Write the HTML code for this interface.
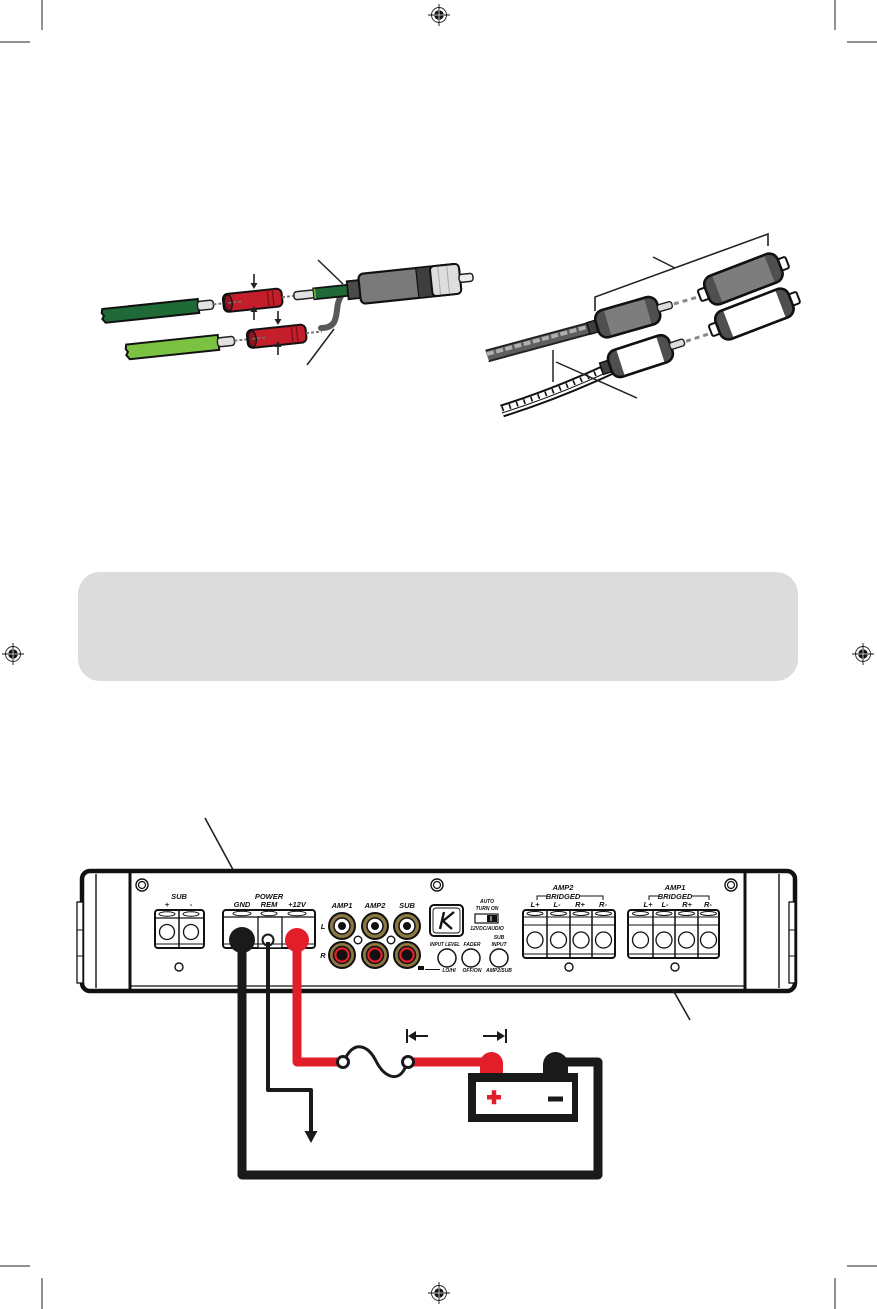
<!DOCTYPE html>
<html>
<head>
<meta charset="utf-8">
<style>
html,body{margin:0;padding:0;background:#fff;}
svg{display:block;}
text{font-family:"Liberation Sans",sans-serif;font-weight:bold;font-style:italic;}
</style>
</head>
<body>
<svg width="877" height="1309" viewBox="0 0 877 1309" xmlns="http://www.w3.org/2000/svg">
<rect width="877" height="1309" fill="#fff"/>

<!-- crop marks -->
<g stroke="#222" stroke-width="1">
<line x1="42" y1="0" x2="42" y2="30"/>
<line x1="0" y1="42" x2="30" y2="42"/>
<line x1="835" y1="0" x2="835" y2="30"/>
<line x1="847" y1="42" x2="877" y2="42"/>
<line x1="0" y1="1266" x2="30" y2="1266"/>
<line x1="42" y1="1278" x2="42" y2="1309"/>
<line x1="847" y1="1266" x2="877" y2="1266"/>
<line x1="835" y1="1278" x2="835" y2="1309"/>
</g>

<!-- registration marks -->
<defs>
<g id="reg">
<circle r="7.5" fill="none" stroke="#222" stroke-width="0.9"/>
<circle r="4.8" fill="#111"/>
<line x1="-11" y1="0" x2="11" y2="0" stroke="#111" stroke-width="0.9"/>
<line x1="0" y1="-11" x2="0" y2="11" stroke="#111" stroke-width="0.9"/>
<line x1="-4.8" y1="0" x2="4.8" y2="0" stroke="#fff" stroke-width="0.7"/>
<line x1="0" y1="-4.8" x2="0" y2="4.8" stroke="#fff" stroke-width="0.7"/>
</g>
</defs>
<use href="#reg" x="439" y="15"/>
<use href="#reg" x="439" y="1293"/>
<use href="#reg" x="13" y="654"/>
<use href="#reg" x="863" y="654"/>

<!-- ============ LEFT CONNECTOR DIAGRAM ============ -->
<line x1="318" y1="260" x2="343" y2="284" stroke="#222" stroke-width="1.5"/>
<line x1="307" y1="365" x2="334" y2="329" stroke="#222" stroke-width="1.5"/>

<path d="M341,296 C336,304 338,312 335,320 C333,326 328,328 321,328" fill="none" stroke="#595959" stroke-width="6" stroke-linecap="round"/>

<g transform="translate(103,316) rotate(-6)">
<polygon points="0,-7 96,-7 96,7 2,7 -1,3 1,0 -1,-3" fill="#1f6a36" stroke="#111" stroke-width="2"/>
<rect x="95" y="-4.5" width="16" height="9" rx="3" fill="#e2e2e2" stroke="#222" stroke-width="1.5"/>
<line x1="111" y1="0" x2="122" y2="0" stroke="#777" stroke-width="2" stroke-dasharray="3 2"/>
<rect x="121" y="-9" width="59" height="18" rx="5" fill="#c41e2b" stroke="#111" stroke-width="2"/>
<ellipse cx="126" cy="0" rx="4" ry="8" fill="#8e1520" stroke="#111" stroke-width="1.2"/>
<line x1="126" y1="0" x2="140" y2="0" stroke="#777" stroke-width="1.5" stroke-dasharray="3 2"/>
<line x1="166" y1="-9" x2="166" y2="9" stroke="#7a1018" stroke-width="1.3"/>
<line x1="171" y1="-9" x2="171" y2="9" stroke="#7a1018" stroke-width="1.3"/>
<line x1="180" y1="0" x2="193" y2="0" stroke="#777" stroke-width="2" stroke-dasharray="3 2"/>
<rect x="192" y="-4" width="22" height="8" rx="3" fill="#e2e2e2" stroke="#222" stroke-width="1.5"/>
<rect x="212" y="-5.5" width="35" height="11" fill="#1f6a36" stroke="#111" stroke-width="1.8"/>
<line x1="213" y1="-5" x2="213" y2="5" stroke="#7cc242" stroke-width="1.5"/>
<rect x="246" y="-9" width="13" height="18" fill="#4a4a4a" stroke="#111" stroke-width="1.8"/>
<rect x="258" y="-15" width="101" height="30" rx="5" fill="#7a7a7a" stroke="#111" stroke-width="2.2"/>
<rect x="316" y="-15" width="14" height="30" fill="#3e3e3e" stroke="#111" stroke-width="1.2"/>
<rect x="330" y="-15" width="29" height="30" rx="4" fill="#dedede" stroke="#111" stroke-width="2"/>
<line x1="338" y1="-14" x2="338" y2="14" stroke="#aaa" stroke-width="1"/>
<line x1="347" y1="-14" x2="347" y2="14" stroke="#aaa" stroke-width="1"/>
<rect x="358" y="-4" width="14" height="8" rx="3" fill="#eee" stroke="#222" stroke-width="1.5"/>
</g>

<g transform="translate(127,352) rotate(-6)">
<polygon points="0,-7.5 92,-7.5 92,7.5 2,7.5 -1,3 1,0 -1,-3" fill="#7cc242" stroke="#111" stroke-width="2"/>
<rect x="91" y="-4.5" width="17" height="9" rx="3" fill="#e2e2e2" stroke="#222" stroke-width="1.5"/>
<line x1="108" y1="0" x2="122" y2="0" stroke="#777" stroke-width="2" stroke-dasharray="3 2"/>
<rect x="121" y="-9" width="59" height="18" rx="5" fill="#c41e2b" stroke="#111" stroke-width="2"/>
<ellipse cx="126" cy="0" rx="4" ry="8" fill="#8e1520" stroke="#111" stroke-width="1.2"/>
<line x1="126" y1="0" x2="140" y2="0" stroke="#777" stroke-width="1.5" stroke-dasharray="3 2"/>
<line x1="166" y1="-9" x2="166" y2="9" stroke="#7a1018" stroke-width="1.3"/>
<line x1="171" y1="-9" x2="171" y2="9" stroke="#7a1018" stroke-width="1.3"/>
<line x1="180" y1="0" x2="196" y2="0" stroke="#777" stroke-width="2" stroke-dasharray="3 2"/>
</g>

<g stroke="#222" stroke-width="1.6" fill="#222">
<line x1="254" y1="274" x2="254" y2="285"/>
<polygon points="250.5,283 257.5,283 254,289" stroke="none"/>
<line x1="254" y1="320" x2="254" y2="310"/>
<polygon points="250.5,312 257.5,312 254,306" stroke="none"/>
<line x1="278" y1="311" x2="278" y2="321"/>
<polygon points="274.5,319 281.5,319 278,325" stroke="none"/>
<line x1="278" y1="355" x2="278" y2="345"/>
<polygon points="274.5,347 281.5,347 278,341" stroke="none"/>
</g>

<!-- ============ RIGHT RCA DIAGRAM ============ -->
<polyline points="595,311 595,297 768,234 768,246" fill="none" stroke="#222" stroke-width="1.6"/>
<line x1="653" y1="257" x2="675" y2="268" stroke="#222" stroke-width="1.5"/>

<path d="M487,356 L598,326" stroke="#222" stroke-width="13" fill="none"/>
<path d="M487,356 L598,326" stroke="#5e5e5e" stroke-width="9" fill="none"/>
<path d="M487,354 L598,324" stroke="#b0b0b0" stroke-width="4" fill="none" stroke-dasharray="7 2.5"/>
<polygon points="485,350 489,361 486,362 483,351" fill="#fff"/>

<path d="M502,411 Q556,394 612,368" stroke="#111" stroke-width="13" fill="none"/>
<path d="M502,411 Q556,394 612,368" stroke="#fff" stroke-width="9" fill="none"/>
<path d="M502,409 Q556,392 612,366" stroke="#111" stroke-width="5" fill="none" stroke-dasharray="1.6 6"/>
<path d="M502,413 Q556,396 612,370" stroke="#111" stroke-width="1" fill="none"/>

<line x1="553" y1="350" x2="553" y2="382" stroke="#222" stroke-width="1.5"/>
<line x1="556" y1="362" x2="637" y2="398" stroke="#222" stroke-width="1.5"/>

<g transform="translate(707,293) rotate(-21)">
<rect x="-8" y="-6" width="10" height="12" rx="2" fill="#fff" stroke="#111" stroke-width="2"/>
<rect x="76" y="-6" width="10" height="12" rx="2" fill="#fff" stroke="#111" stroke-width="2"/>
<rect x="0" y="-15" width="78" height="30" rx="9" fill="#7d7d7d" stroke="#111" stroke-width="2.5"/>
<path d="M9,-15 Q0,-15 0,-6 L0,6 Q0,15 9,15 L11,15 L11,-15 Z" fill="#4f4f4f"/>
<path d="M69,-15 Q78,-15 78,-6 L78,6 Q78,15 69,15 L67,15 L67,-15 Z" fill="#4f4f4f"/>
<rect x="0" y="-15" width="78" height="30" rx="9" fill="none" stroke="#111" stroke-width="2.5"/>
</g>
<g transform="translate(718,328) rotate(-21)">
<rect x="-8" y="-6" width="10" height="12" rx="2" fill="#fff" stroke="#111" stroke-width="2"/>
<rect x="76" y="-6" width="10" height="12" rx="2" fill="#fff" stroke="#111" stroke-width="2"/>
<rect x="0" y="-15" width="78" height="30" rx="9" fill="#fff" stroke="#111" stroke-width="2.5"/>
<path d="M9,-15 Q0,-15 0,-6 L0,6 Q0,15 9,15 L11,15 L11,-15 Z" fill="#4f4f4f"/>
<path d="M69,-15 Q78,-15 78,-6 L78,6 Q78,15 69,15 L67,15 L67,-15 Z" fill="#4f4f4f"/>
<rect x="0" y="-15" width="78" height="30" rx="9" fill="none" stroke="#111" stroke-width="2.5"/>
</g>
<g transform="translate(597,326) rotate(-16)">
<rect x="-9" y="-6" width="10" height="12" fill="#3e3e3e" stroke="#111" stroke-width="1.5"/>
<rect x="0" y="-14" width="64" height="28" rx="9" fill="#7d7d7d" stroke="#111" stroke-width="2.5"/>
<path d="M9,-14 Q0,-14 0,-5 L0,5 Q0,14 9,14 L11,14 L11,-14 Z" fill="#4f4f4f"/>
<path d="M55,-14 Q64,-14 64,-5 L64,5 Q64,14 55,14 L53,14 L53,-14 Z" fill="#4f4f4f"/>
<rect x="0" y="-14" width="64" height="28" rx="9" fill="none" stroke="#111" stroke-width="2.5"/>
<rect x="63" y="-3.5" width="15" height="7" rx="2.5" fill="#ddd" stroke="#222" stroke-width="1.4"/>
<line x1="80" y1="0" x2="106" y2="0" stroke="#8a8a8a" stroke-width="3" stroke-dasharray="5 4"/>
</g>
<g transform="translate(610,366) rotate(-18)">
<rect x="-9" y="-6" width="10" height="12" fill="#3e3e3e" stroke="#111" stroke-width="1.5"/>
<rect x="0" y="-14" width="64" height="28" rx="9" fill="#fff" stroke="#111" stroke-width="2.5"/>
<path d="M9,-14 Q0,-14 0,-5 L0,5 Q0,14 9,14 L11,14 L11,-14 Z" fill="#4f4f4f"/>
<path d="M55,-14 Q64,-14 64,-5 L64,5 Q64,14 55,14 L53,14 L53,-14 Z" fill="#4f4f4f"/>
<rect x="0" y="-14" width="64" height="28" rx="9" fill="none" stroke="#111" stroke-width="2.5"/>
<rect x="63" y="-3.5" width="15" height="7" rx="2.5" fill="#ddd" stroke="#222" stroke-width="1.4"/>
<line x1="80" y1="0" x2="106" y2="0" stroke="#8a8a8a" stroke-width="3" stroke-dasharray="5 4"/>
</g>

<!-- ============ GRAY BOX ============ -->
<rect x="78" y="572" width="720" height="109" rx="22" fill="#dcdcdc"/>

<!-- ============ AMPLIFIER ============ -->
<line x1="205" y1="818" x2="256" y2="912" stroke="#222" stroke-width="1.6"/>

<rect x="82" y="871" width="713" height="120" rx="8" fill="#fff" stroke="#111" stroke-width="4.5"/>
<line x1="130" y1="871" x2="130" y2="991" stroke="#111" stroke-width="3"/>
<line x1="745" y1="871" x2="745" y2="991" stroke="#111" stroke-width="3"/>
<line x1="96" y1="874" x2="96" y2="988" stroke="#111" stroke-width="1.4"/>
<line x1="779" y1="874" x2="779" y2="988" stroke="#111" stroke-width="1.4"/>
<line x1="130" y1="986" x2="745" y2="986" stroke="#111" stroke-width="1.2"/>
<rect x="77" y="902" width="6" height="81" fill="#fff" stroke="#111" stroke-width="1.3"/>
<rect x="789" y="902" width="6" height="81" fill="#fff" stroke="#111" stroke-width="1.3"/>
<line x1="77" y1="930" x2="83" y2="930" stroke="#111" stroke-width="1"/>
<line x1="77" y1="956" x2="83" y2="956" stroke="#111" stroke-width="1"/>
<line x1="789" y1="930" x2="795" y2="930" stroke="#111" stroke-width="1"/>
<line x1="789" y1="956" x2="795" y2="956" stroke="#111" stroke-width="1"/>

<g fill="#fff" stroke="#111">
<circle cx="142" cy="885" r="6" stroke-width="1.4"/><circle cx="142" cy="885" r="3.5" stroke-width="1.2"/>
<circle cx="437" cy="885" r="6" stroke-width="1.4"/><circle cx="437" cy="885" r="3.5" stroke-width="1.2"/>
<circle cx="731" cy="885" r="6" stroke-width="1.4"/><circle cx="731" cy="885" r="3.5" stroke-width="1.2"/>
</g>

<g font-size="7.5" text-anchor="middle" fill="#111">
<text x="179" y="899">SUB</text>
<text x="167" y="907">+</text>
<text x="191" y="907">-</text>
<text x="269" y="899">POWER</text>
<text x="242" y="907">GND</text>
<text x="269" y="907">REM</text>
<text x="297" y="907">+12V</text>
<text x="342" y="908">AMP1</text>
<text x="375" y="908">AMP2</text>
<text x="407" y="908">SUB</text>
<text x="323" y="929">L</text>
<text x="323" y="958">R</text>
<text x="563" y="890">AMP2</text>
<text x="563" y="899">BRIDGED</text>
<text x="535" y="907">L+</text>
<text x="557" y="907">L-</text>
<text x="580" y="907">R+</text>
<text x="603" y="907">R-</text>
<text x="675" y="890">AMP1</text>
<text x="675" y="899">BRIDGED</text>
<text x="648" y="907">L+</text>
<text x="665" y="907">L-</text>
<text x="687" y="907">R+</text>
<text x="708" y="907">R-</text>
</g>
<g stroke="#111" stroke-width="1" fill="none">
<polyline points="537,900 537,896 547,896"/>
<polyline points="579,896 603,896 603,900"/>
<polyline points="649,900 649,896 659,896"/>
<polyline points="691,896 709,896 709,900"/>
</g>

<g stroke="#111" fill="#fff">
<rect x="155" y="910" width="49" height="38" rx="3" stroke-width="2"/>
<line x1="179" y1="910" x2="179" y2="948" stroke-width="1.5"/>
<line x1="155" y1="918" x2="204" y2="918" stroke-width="1.2"/>
<ellipse cx="167" cy="914" rx="8" ry="2.2" stroke-width="1"/>
<ellipse cx="191" cy="914" rx="8" ry="2.2" stroke-width="1"/>
<circle cx="167" cy="932" r="7.5" stroke-width="1.3"/>
<circle cx="191" cy="932" r="7.5" stroke-width="1.3"/>
<line x1="155" y1="944" x2="204" y2="944" stroke-width="1"/>
</g>

<g stroke="#111" fill="#fff">
<rect x="223" y="910" width="92" height="38" rx="3" stroke-width="2"/>
<line x1="223" y1="917" x2="315" y2="917" stroke-width="1.2"/>
<rect x="258" y="917" width="24" height="31" stroke-width="1.3"/>
<ellipse cx="242" cy="913.5" rx="9" ry="2.2" stroke-width="1"/>
<ellipse cx="269" cy="913.5" rx="8" ry="2.2" stroke-width="1"/>
<ellipse cx="297" cy="913.5" rx="9" ry="2.2" stroke-width="1"/>
<line x1="223" y1="944" x2="315" y2="944" stroke-width="1"/>
</g>

<g stroke="#111">
<circle cx="342" cy="926" r="13" fill="#8b7842" stroke-width="2"/><circle cx="342" cy="926" r="8" fill="#fff" stroke-width="1.5"/><circle cx="342" cy="926" r="3.5" fill="#111"/>
<circle cx="375" cy="926" r="13" fill="#8b7842" stroke-width="2"/><circle cx="375" cy="926" r="8" fill="#fff" stroke-width="1.5"/><circle cx="375" cy="926" r="3.5" fill="#111"/>
<circle cx="407" cy="926" r="13" fill="#8b7842" stroke-width="2"/><circle cx="407" cy="926" r="8" fill="#fff" stroke-width="1.5"/><circle cx="407" cy="926" r="3.5" fill="#111"/>
<circle cx="342" cy="955" r="13" fill="#8b7842" stroke-width="2"/><circle cx="342" cy="955" r="8.5" fill="#e3202b" stroke-width="1.5"/><circle cx="342" cy="955" r="5" fill="#111"/>
<circle cx="375" cy="955" r="13" fill="#8b7842" stroke-width="2"/><circle cx="375" cy="955" r="8.5" fill="#e3202b" stroke-width="1.5"/><circle cx="375" cy="955" r="5" fill="#111"/>
<circle cx="407" cy="955" r="13" fill="#8b7842" stroke-width="2"/><circle cx="407" cy="955" r="8.5" fill="#e3202b" stroke-width="1.5"/><circle cx="407" cy="955" r="5" fill="#111"/>
</g>
<g fill="#fff" stroke="#111" stroke-width="1.4">
<circle cx="358" cy="940" r="3.8"/>
<circle cx="391" cy="940" r="3.8"/>
<circle cx="179" cy="967" r="4"/>
<circle cx="569" cy="967" r="4"/>
<circle cx="675" cy="967" r="4"/>
</g>

<rect x="430" y="905" width="33" height="31" rx="4" fill="#fff" stroke="#111" stroke-width="2"/>
<rect x="433" y="908" width="27" height="25" rx="3" fill="none" stroke="#111" stroke-width="0.9"/>
<g stroke="#111" stroke-width="2.4" fill="none">
<line x1="440" y1="929" x2="444" y2="912"/>
<line x1="443" y1="921" x2="454" y2="912"/>
<line x1="443" y1="921" x2="452" y2="929"/>
</g>

<g font-size="5" text-anchor="middle" fill="#111">
<text x="487" y="903">AUTO</text>
<text x="487" y="910">TURN ON</text>
<text x="487" y="930">12VDC/AUDIO</text>
<text x="445" y="946" textLength="30" lengthAdjust="spacingAndGlyphs">INPUT LEVEL</text>
<text x="472" y="946">FADER</text>
<text x="499" y="939">SUB</text>
<text x="499" y="946">INPUT</text>
<text x="449" y="972">LO/HI</text>
<text x="472" y="972">OFF/ON</text>
<text x="499" y="972">AMP2/SUB</text>
</g>
<rect x="475" y="914" width="23" height="9" fill="#fff" stroke="#111" stroke-width="1.2"/>
<rect x="487" y="915" width="10" height="7" fill="#111"/>
<line x1="491" y1="916" x2="491" y2="921" stroke="#fff" stroke-width="1"/>
<rect x="418" y="966" width="6" height="4" fill="#111"/>
<line x1="425" y1="969.5" x2="440" y2="969.5" stroke="#111" stroke-width="1"/>
<g fill="#fff" stroke="#111" stroke-width="1.5">
<circle cx="447" cy="958" r="9"/>
<circle cx="471" cy="958" r="9"/>
<circle cx="499" cy="958" r="9"/>
</g>

<g stroke="#111" fill="#fff">
<rect x="523" y="910" width="92" height="48" rx="3" stroke-width="2"/>
<line x1="547" y1="910" x2="547" y2="958" stroke-width="1.5"/>
<line x1="570" y1="910" x2="570" y2="958" stroke-width="1.5"/>
<line x1="592" y1="910" x2="592" y2="958" stroke-width="1.5"/>
<line x1="523" y1="917" x2="615" y2="917" stroke-width="1.1"/>
<line x1="523" y1="925" x2="615" y2="925" stroke-width="1"/>
<line x1="523" y1="954" x2="615" y2="954" stroke-width="1"/>
<ellipse cx="535" cy="913.5" rx="8" ry="2" stroke-width="1"/>
<ellipse cx="558.5" cy="913.5" rx="8" ry="2" stroke-width="1"/>
<ellipse cx="581" cy="913.5" rx="8" ry="2" stroke-width="1"/>
<ellipse cx="603.5" cy="913.5" rx="8" ry="2" stroke-width="1"/>
<circle cx="535" cy="940" r="8" stroke-width="1.3"/>
<circle cx="558.5" cy="940" r="8" stroke-width="1.3"/>
<circle cx="581" cy="940" r="8" stroke-width="1.3"/>
<circle cx="603.5" cy="940" r="8" stroke-width="1.3"/>

<rect x="628" y="910" width="91" height="48" rx="3" stroke-width="2"/>
<line x1="653" y1="910" x2="653" y2="958" stroke-width="1.5"/>
<line x1="675" y1="910" x2="675" y2="958" stroke-width="1.5"/>
<line x1="698" y1="910" x2="698" y2="958" stroke-width="1.5"/>
<line x1="628" y1="917" x2="719" y2="917" stroke-width="1.1"/>
<line x1="628" y1="925" x2="719" y2="925" stroke-width="1"/>
<line x1="628" y1="954" x2="719" y2="954" stroke-width="1"/>
<ellipse cx="640.5" cy="913.5" rx="8" ry="2" stroke-width="1"/>
<ellipse cx="664" cy="913.5" rx="8" ry="2" stroke-width="1"/>
<ellipse cx="686.5" cy="913.5" rx="8" ry="2" stroke-width="1"/>
<ellipse cx="708.5" cy="913.5" rx="8" ry="2" stroke-width="1"/>
<circle cx="640.5" cy="940" r="8" stroke-width="1.3"/>
<circle cx="664" cy="940" r="8" stroke-width="1.3"/>
<circle cx="686.5" cy="940" r="8" stroke-width="1.3"/>
<circle cx="708.5" cy="940" r="8" stroke-width="1.3"/>
</g>

<line x1="673" y1="990" x2="690" y2="1020" stroke="#222" stroke-width="1.6"/>

<!-- ============ WIRING ============ -->
<circle cx="242" cy="940" r="13" fill="#1a1a1a"/>
<path d="M242,940 L242,1175 L598,1175 L598,1062 L560,1062" fill="none" stroke="#1a1a1a" stroke-width="9" stroke-linejoin="round"/>
<circle cx="268" cy="940" r="5.5" fill="#fff" stroke="#1a1a1a" stroke-width="2"/>
<path d="M268,942 L268,1090 L311,1090 L311,1134" fill="none" stroke="#1a1a1a" stroke-width="4" stroke-linejoin="round"/>
<polygon points="304.5,1131 317.5,1131 311,1143" fill="#1a1a1a"/>
<circle cx="297" cy="940" r="12" fill="#e31e2b"/>
<path d="M297,940 L297,1062 L338,1062" fill="none" stroke="#e31e2b" stroke-width="9" stroke-linejoin="round"/>
<path d="M413,1062 L492,1062" fill="none" stroke="#e31e2b" stroke-width="9"/>
<path d="M346,1057 C355,1041 368,1045 376,1061 C384,1077 398,1083 405,1068" fill="none" stroke="#1a1a1a" stroke-width="3"/>
<circle cx="343" cy="1062" r="5.5" fill="#fff" stroke="#1a1a1a" stroke-width="3"/>
<circle cx="408" cy="1062" r="5.5" fill="#fff" stroke="#1a1a1a" stroke-width="3"/>

<g stroke="#1a1a1a" stroke-width="2" fill="#1a1a1a">
<line x1="407" y1="1029" x2="407" y2="1043"/>
<line x1="414" y1="1036" x2="428" y2="1036"/>
<polygon points="408,1036 416,1031 416,1041" stroke="none"/>
<line x1="506" y1="1029" x2="506" y2="1043"/>
<line x1="483" y1="1036" x2="498" y2="1036"/>
<polygon points="505,1036 497,1031 497,1041" stroke="none"/>
</g>

<path d="M480,1075 L480,1063.5 A11.5,11.5 0 0 1 503,1063.5 L503,1075 Z" fill="#e31e2b"/>
<path d="M543,1075 L543,1064.5 A12.5,12.5 0 0 1 568,1064.5 L568,1075 Z" fill="#1a1a1a"/>
<rect x="468" y="1073" width="110" height="49" fill="#1a1a1a"/>
<rect x="476" y="1082" width="96" height="32" fill="#fff"/>
<rect x="487" y="1095" width="14" height="4.5" fill="#e31e2b"/>
<rect x="491.75" y="1090.25" width="4.5" height="14" fill="#e31e2b"/>
<rect x="548" y="1096.5" width="15" height="5" fill="#1a1a1a"/>
</svg>
</body>
</html>
